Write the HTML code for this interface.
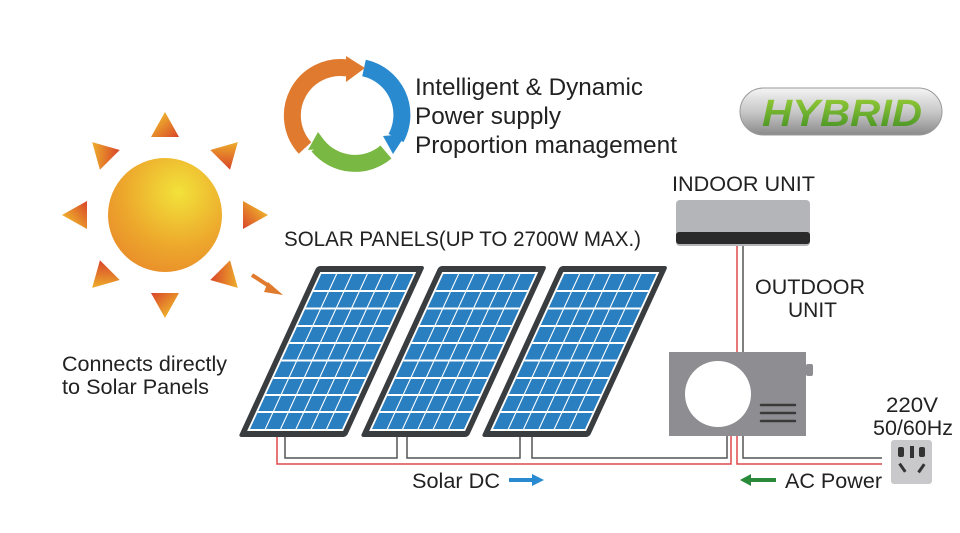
<!DOCTYPE html>
<html><head><meta charset="utf-8"><style>
body{margin:0;background:#fff;}
svg{display:block;}
text{font-family:"Liberation Sans",Arial,sans-serif;fill:#222;}
</style></head><body>
<svg width="960" height="533" viewBox="0 0 960 533" xmlns="http://www.w3.org/2000/svg">
<defs>
<radialGradient id="sun" cx="0.62" cy="0.3" r="0.8">
<stop offset="0" stop-color="#f2e23a"/><stop offset="0.6" stop-color="#eda82c"/><stop offset="1" stop-color="#e88a2a"/>
</radialGradient>
<linearGradient id="ray" x1="0" y1="0" x2="1" y2="1">
<stop offset="0" stop-color="#f5d22c"/><stop offset="1" stop-color="#d8442a"/>
</linearGradient>
<linearGradient id="pill" x1="0" y1="0" x2="0" y2="1">
<stop offset="0" stop-color="#f4f4f4"/><stop offset="0.5" stop-color="#c8c8c8"/><stop offset="1" stop-color="#8a8a8a"/>
</linearGradient>
<linearGradient id="hyb" x1="0" y1="0" x2="0" y2="1">
<stop offset="0" stop-color="#9ed23a"/><stop offset="1" stop-color="#3a8a22"/>
</linearGradient>
<g id="panel">
<rect x="0" y="0" width="108" height="171" fill="#3a3d40" rx="3"/>
<rect x="6" y="6" width="96" height="159" fill="#fff"/>
<rect x="8" y="8" width="92" height="155" fill="#2a7fc0"/>
<g stroke="#fff" stroke-width="1.2">
<line x1="23.3" y1="8" x2="23.3" y2="163"/><line x1="38.6" y1="8" x2="38.6" y2="163"/><line x1="54" y1="8" x2="54" y2="163"/><line x1="69.3" y1="8" x2="69.3" y2="163"/><line x1="84.6" y1="8" x2="84.6" y2="163"/>
</g>
<g stroke="#fff" stroke-width="2">
<line x1="8" y1="25" x2="100" y2="25"/><line x1="8" y1="42.5" x2="100" y2="42.5"/><line x1="8" y1="60" x2="100" y2="60"/><line x1="8" y1="77" x2="100" y2="77"/><line x1="8" y1="94.5" x2="100" y2="94.5"/><line x1="8" y1="112" x2="100" y2="112"/><line x1="8" y1="129" x2="100" y2="129"/><line x1="8" y1="146" x2="100" y2="146"/>
</g>
</g>
</defs>

<circle cx="165" cy="215" r="57" fill="url(#sun)"/>
<g fill="url(#ray)">
<g transform="translate(165,215)">
<polygon points="-14,-78 14,-78 0,-103" transform="rotate(0)"/>
<polygon points="-14,-78 14,-78 0,-103" transform="rotate(45)"/>
<polygon points="-14,-78 14,-78 0,-103" transform="rotate(90)"/>
<polygon points="-14,-78 14,-78 0,-103" transform="rotate(135)"/>
<polygon points="-14,-78 14,-78 0,-103" transform="rotate(180)"/>
<polygon points="-14,-78 14,-78 0,-103" transform="rotate(225)"/>
<polygon points="-14,-78 14,-78 0,-103" transform="rotate(270)"/>
<polygon points="-14,-78 14,-78 0,-103" transform="rotate(315)"/>
</g>
</g>
<line x1="252" y1="275" x2="272" y2="288" stroke="#e07a2c" stroke-width="4"/>
<polygon points="268,282 283,295 264,292" fill="#e07a2c"/>

<g fill="none" stroke-width="17">
<path d="M305,148 A48,48 0 0 1 347,68" stroke="#e07a2e"/>
<path d="M364,68 A48,48 0 0 1 396,138" stroke="#2a8ad0"/>
<path d="M386,152 A48,48 0 0 1 318,146" stroke="#7ab844"/>
</g>
<polygon points="346,56 365,68 346,82" fill="#e07a2e"/>
<polygon points="383,136 406,134 393,154" fill="#2a8ad0"/>
<polygon points="318,132 330,148 308,150" fill="#7ab844"/>

<text x="415" y="95" font-size="24" textLength="228" lengthAdjust="spacingAndGlyphs">Intelligent &amp; Dynamic</text>
<text x="415" y="124" font-size="24" textLength="146" lengthAdjust="spacingAndGlyphs">Power supply</text>
<text x="415" y="153" font-size="24" textLength="262" lengthAdjust="spacingAndGlyphs">Proportion management</text>

<rect x="740" y="88" width="202" height="47" rx="23.5" fill="url(#pill)" stroke="#999"/>
<text x="762" y="126" font-size="38" font-weight="bold" font-style="italic" style="fill:url(#hyb)" textLength="160" lengthAdjust="spacingAndGlyphs">HYBRID</text>

<text x="284" y="246" font-size="21" textLength="357" lengthAdjust="spacingAndGlyphs">SOLAR PANELS(UP TO  2700W  MAX.)</text>
<text x="672" y="191" font-size="21" textLength="143" lengthAdjust="spacingAndGlyphs">INDOOR UNIT</text>
<text x="755" y="294" font-size="21" textLength="110" lengthAdjust="spacingAndGlyphs">OUTDOOR</text>
<text x="788" y="317" font-size="21" textLength="49" lengthAdjust="spacingAndGlyphs">UNIT</text>
<text x="62" y="371" font-size="21.5" textLength="165" lengthAdjust="spacingAndGlyphs">Connects directly</text>
<text x="62" y="394" font-size="21.5" textLength="147" lengthAdjust="spacingAndGlyphs">to Solar Panels</text>
<text x="886" y="412" font-size="21" textLength="52" lengthAdjust="spacingAndGlyphs">220V</text>
<text x="873" y="435" font-size="21" textLength="80" lengthAdjust="spacingAndGlyphs">50/60Hz</text>
<text x="412" y="488" font-size="21" textLength="88" lengthAdjust="spacingAndGlyphs">Solar DC</text>
<text x="785" y="488" font-size="21" textLength="97" lengthAdjust="spacingAndGlyphs">AC Power</text>

<rect x="509" y="478" width="24" height="4" fill="#2a8ad0"/>
<polygon points="532,474 544,480 532,486" fill="#2a8ad0"/>
<rect x="750" y="478" width="26" height="4" fill="#2a8a3a"/>
<polygon points="751,474 740,480 751,486" fill="#2a8a3a"/>

<g fill="none" stroke-width="1.5">
<path d="M277,436 V464 H731 V436" stroke="#e04848"/>
<path d="M285,436 V458 H397 V436 M407,436 V458 H520 V436 M532,436 V458 H727 V436" stroke="#555"/>
<path d="M737,246 V352 M737,436 V464 H882" stroke="#e04848"/>
<path d="M743,246 V352 M743,436 V458 H882" stroke="#555"/>
</g>

<use href="#panel" transform="matrix(1,0,-0.46,1,317,266)"/>
<use href="#panel" transform="matrix(1,0,-0.46,1,439,266)"/>
<use href="#panel" transform="matrix(1,0,-0.46,1,560,266)"/>

<rect x="676" y="200" width="134" height="46" rx="4" fill="#b4b5b8"/>
<rect x="676" y="232" width="134" height="12" rx="3" fill="#2a2a2a"/>
<rect x="806" y="364" width="7" height="12" rx="2" fill="#8e8e92"/>
<rect x="669" y="352" width="137" height="84" fill="#8e8e92"/>
<circle cx="718" cy="394" r="33" fill="#fff"/>
<g stroke="#3a3a3a" stroke-width="2.5" stroke-linecap="round"><line x1="761" y1="405" x2="795" y2="405"/><line x1="761" y1="413" x2="795" y2="413"/><line x1="761" y1="421" x2="795" y2="421"/></g>
<rect x="891" y="440" width="41" height="44" rx="3" fill="#c9c9cb"/>
<g fill="#333"><rect x="898" y="447" width="6" height="10" rx="2"/><rect x="910" y="446" width="4" height="12"/><rect x="919" y="447" width="6" height="10" rx="2"/>
<rect x="901" y="463" width="3" height="10" transform="rotate(-35 902 468)"/><rect x="920" y="463" width="3" height="10" transform="rotate(35 921 468)"/></g>
</svg>
</body></html>
